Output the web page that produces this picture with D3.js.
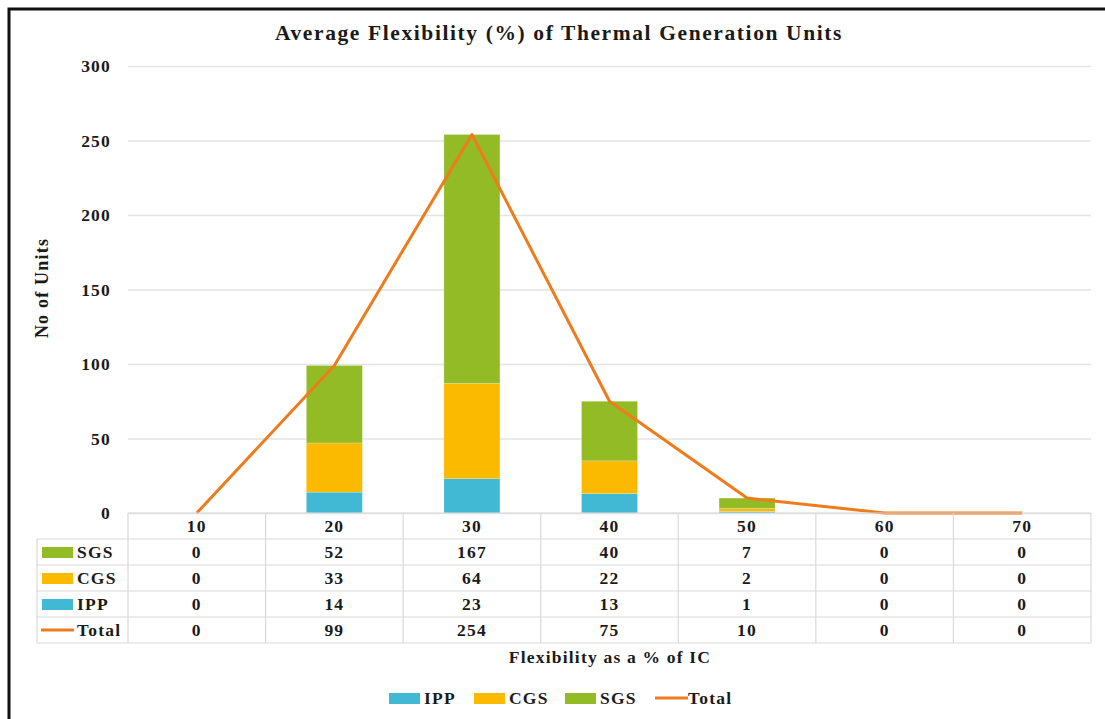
<!DOCTYPE html>
<html>
<head>
<meta charset="utf-8">
<script src="https://cdn.jsdelivr.net/npm/d3@7"></script>
<style>
  body { margin: 0; background: #fff; }
  svg text { font-family: "Liberation Serif", "DejaVu Serif", serif; font-weight: bold; fill: #1a1a1a; letter-spacing: 1.2px; }
</style>
</head>
<body>
<div id="chart"></div>
<script>
// data
const categories = ['10', '20', '30', '40', '50', '60', '70'];
const ipp = [0, 14, 23, 13, 1, 0, 0];
const cgs = [0, 33, 64, 22, 2, 0, 0];
const sgs = [0, 52, 167, 40, 7, 0, 0];
const total = [0, 99, 254, 75, 10, 0, 0];
const yTicks = [0, 50, 100, 150, 200, 250, 300];

const svgWidth = 1105;
const svgHeight = 719;

const colors = { IPP: '#41b9d4', CGS: '#fbb900', SGS: '#92bb26', Total: '#ee7b1c' };

const svg = d3.select('#chart')
  .append('svg')
    .attr('width', svgWidth)
    .attr('height', svgHeight);

// outer frame (right/bottom cut off in the original)
svg.append('rect')
  .attr('x', 9).attr('y', 9)
  .attr('width', svgWidth + 20).attr('height', svgHeight + 20)
  .attr('fill', 'none')
  .attr('stroke', '#111')
  .attr('stroke-width', 3);

const plot = { left: 128, right: 1091, top: 66, bottom: 513 };

const xScale = d3.scaleBand()
  .domain(categories)
  .range([plot.left, plot.right])
  .paddingInner(0)
  .paddingOuter(0);

const yScale = d3.scaleLinear()
  .domain([0, 300])
  .range([plot.bottom, plot.top]);

// gridlines + y labels
const yAxis = d3.axisLeft(yScale)
  .tickValues(yTicks)
  .tickSize(-(plot.right - plot.left))
  .tickPadding(17);

const yAxisG = svg.append('g')
  .attr('transform', `translate(${plot.left},0)`)
  .call(yAxis);
yAxisG.select('.domain').remove();
yAxisG.selectAll('.tick line')
  .attr('stroke', '#e3e3e3')
  .attr('stroke-width', 1.3);
yAxisG.selectAll('.tick text')
  .attr('font-size', 17.5)
  .attr('font-family', '"Liberation Serif", serif')
  .attr('font-weight', 'bold')
  .attr('fill', '#1a1a1a');

// stacked bars
const rows = categories.map((c, i) => ({ cat: c, IPP: ipp[i], CGS: cgs[i], SGS: sgs[i] }));
const stack = d3.stack().keys(['IPP', 'CGS', 'SGS'])(rows);
const barWidth = 56;

svg.append('g')
  .selectAll('g')
  .data(stack)
  .enter().append('g')
    .attr('fill', d => colors[d.key])
  .selectAll('rect')
  .data(d => d)
  .enter().append('rect')
    .attr('x', d => xScale(d.data.cat) + xScale.bandwidth() / 2 - barWidth / 2)
    .attr('y', d => yScale(d[1]))
    .attr('width', barWidth)
    .attr('height', d => yScale(d[0]) - yScale(d[1]))
    .attr('stroke', '#ffffff')
    .attr('stroke-opacity', 0.35)
    .attr('stroke-width', 0.6);

// total line
const line = d3.line()
  .x((d, i) => xScale(categories[i]) + xScale.bandwidth() / 2)
  .y(d => yScale(d));

svg.append('path')
  .datum(total)
  .attr('d', line)
  .attr('fill', 'none')
  .attr('stroke', colors.Total)
  .attr('stroke-width', 3)
  .attr('stroke-linejoin', 'round');

// data table
const rowH = 26;
const tableTop = plot.bottom;
const legendLeft = 37;
const tableRows = [
  { name: 'SGS', values: sgs, kind: 'rect' },
  { name: 'CGS', values: cgs, kind: 'rect' },
  { name: 'IPP', values: ipp, kind: 'rect' },
  { name: 'Total', values: total, kind: 'line' }
];
const tbl = svg.append('g');
const gridColor = '#d9d9d9';

// horizontal lines
tbl.append('line')
  .attr('x1', plot.left).attr('x2', plot.right)
  .attr('y1', tableTop).attr('y2', tableTop)
  .attr('stroke', gridColor).attr('stroke-width', 1.2);
d3.range(1, tableRows.length + 2).forEach(k => {
  tbl.append('line')
    .attr('x1', legendLeft).attr('x2', plot.right)
    .attr('y1', tableTop + k * rowH).attr('y2', tableTop + k * rowH)
    .attr('stroke', gridColor).attr('stroke-width', 1.2);
});
// vertical lines
tbl.append('line')
  .attr('x1', legendLeft).attr('x2', legendLeft)
  .attr('y1', tableTop + rowH).attr('y2', tableTop + rowH * 5)
  .attr('stroke', gridColor).attr('stroke-width', 1.2);
categories.concat(['end']).forEach((c, i) => {
  const x = plot.left + i * xScale.bandwidth();
  tbl.append('line')
    .attr('x1', x).attr('x2', x)
    .attr('y1', tableTop).attr('y2', tableTop + rowH * 5)
    .attr('stroke', gridColor).attr('stroke-width', 1.2);
});

// header (category labels)
tbl.selectAll('.head')
  .data(categories)
  .enter().append('text')
    .attr('x', d => xScale(d) + xScale.bandwidth() / 2)
    .attr('y', tableTop + rowH / 2 + 6)
    .attr('text-anchor', 'middle')
    .attr('font-size', 17.5)
    .text(d => d);

tableRows.forEach((r, ri) => {
  const yMid = tableTop + rowH * (ri + 1) + rowH / 2;
  if (r.kind === 'rect') {
    tbl.append('rect')
      .attr('x', 42).attr('y', yMid - 5)
      .attr('width', 31).attr('height', 11)
      .attr('fill', colors[r.name]);
  } else {
    tbl.append('line')
      .attr('x1', 41).attr('x2', 74)
      .attr('y1', yMid).attr('y2', yMid)
      .attr('stroke', colors.Total).attr('stroke-width', 3);
  }
  tbl.append('text')
    .attr('x', 77).attr('y', yMid + 6)
    .attr('font-size', 17.5)
    .text(r.name);
  r.values.forEach((v, i) => {
    tbl.append('text')
      .attr('x', xScale(categories[i]) + xScale.bandwidth() / 2)
      .attr('y', yMid + 6)
      .attr('text-anchor', 'middle')
      .attr('font-size', 17.5)
      .text(v);
  });
});

// titles
svg.append('text')
  .attr('x', 559).attr('y', 40)
  .attr('text-anchor', 'middle')
  .attr('font-size', 21.5)
  .style('letter-spacing', '1.6px')
  .text('Average Flexibility (%) of  Thermal Generation Units');

svg.append('text')
  .attr('x', 610).attr('y', 663)
  .attr('text-anchor', 'middle')
  .attr('font-size', 17.5)
  .text('Flexibility as a % of  IC');

svg.append('text')
  .attr('transform', 'translate(48,288) rotate(-90)')
  .attr('text-anchor', 'middle')
  .attr('font-size', 18)
  .text('No of Units');

// legend
const legendItems = [
  { name: 'IPP', kind: 'rect', x: 389 },
  { name: 'CGS', kind: 'rect', x: 474 },
  { name: 'SGS', kind: 'rect', x: 565 },
  { name: 'Total', kind: 'line', x: 653 }
];
const legendY = 698;
const lg = svg.append('g');
legendItems.forEach(it => {
  if (it.kind === 'rect') {
    lg.append('rect')
      .attr('x', it.x).attr('y', legendY - 5)
      .attr('width', 31).attr('height', 11)
      .attr('fill', colors[it.name]);
  } else {
    lg.append('line')
      .attr('x1', it.x + 2).attr('x2', it.x + 35)
      .attr('y1', legendY).attr('y2', legendY)
      .attr('stroke', colors.Total).attr('stroke-width', 3);
  }
  lg.append('text')
    .attr('x', it.x + 35).attr('y', legendY + 6)
    .attr('font-size', 17.5)
    .text(it.name);
});
</script>
</body>
</html>
